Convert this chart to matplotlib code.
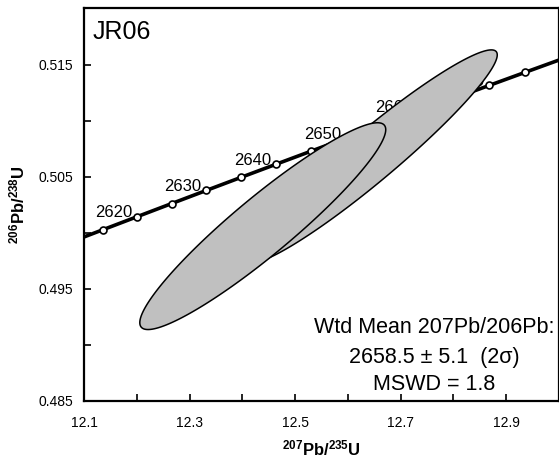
#! /usr/bin/env python3

'''
Concordia diagram for sample JR06: two error ellipses over the
concordia curve, with the weighted mean 207Pb/206Pb age.
'''

import numpy as np
import matplotlib
matplotlib.use('Agg')
import matplotlib.pyplot as plt

plt.rcParams['font.family'] = ['Liberation Sans', 'DejaVu Sans']
plt.rcParams['mathtext.fontset'] = 'custom'
plt.rcParams['mathtext.rm'] = 'Liberation Sans'
plt.rcParams['mathtext.bf'] = 'Liberation Sans:bold'

title = 'JR06'
xlabel = r'$\mathbf{^{207}Pb/^{235}U}$'
ylabel = r'$\mathbf{^{206}Pb/^{238}U}$'

# concordia points, 5 Ma apart
ages = [2610, 2615, 2620, 2625, 2630, 2635, 2640, 2645,
        2650, 2655, 2660, 2665, 2670, 2675, 2680]
pb207_u235 = [12.0718, 12.1363, 12.2012, 12.2663, 12.3318, 12.3976, 12.4638,
              12.5303, 12.5970, 12.6642, 12.7316, 12.7994, 12.8675, 12.9360,
              13.0048]
pb206_u238 = [0.499117, 0.500280, 0.501444, 0.502609, 0.503776, 0.504942,
              0.506110, 0.507278, 0.508448, 0.509619, 0.510790, 0.511962,
              0.513135, 0.514310, 0.515484]
labelled_ages = [2620, 2630, 2640, 2650, 2660, 2670]

# error ellipses (2 sigma): centre, half widths, correlation
ell_x = [12.6434, 12.4387]
ell_y = [0.50678, 0.50059]
ell_sx = [0.2396, 0.2330]
ell_sy = [0.009528, 0.00922]
ell_rho = [0.953, 0.933]

summary = ['Wtd Mean 207Pb/206Pb:',
           '2658.5 \u00b1 5.1  (2\u03c3)',
           'MSWD = 1.8']


def ellipse_outline(x0, y0, sx, sy, rho, n=300):
    t = np.linspace(0, 2 * np.pi, n)
    phi = np.arccos(rho)
    return x0 + sx * np.cos(t), y0 + sy * np.cos(t - phi)


fig = plt.figure(figsize=(5.59, 4.61), dpi=100)
ax = fig.add_axes([0.1503, 0.1302, 0.8497, 0.8514])

# concordia curve
ax.plot(pb207_u235, pb206_u238, color='black', lw=2.6, zorder=2,
        marker='o', ms=5, mfc='white', mec='black', mew=1.2)
for age in labelled_ages:
    i = ages.index(age)
    ax.annotate(str(age), xy=(pb207_u235[i], pb206_u238[i]),
                xytext=(-3.5, -0.5), textcoords='offset points',
                ha='right', va='baseline', fontsize=12, zorder=2)

# big ellipse first, small one on top of it
for i in range(len(ell_x)):
    ex, ey = ellipse_outline(ell_x[i], ell_y[i], ell_sx[i], ell_sy[i],
                             ell_rho[i])
    ax.fill(ex, ey, facecolor='#c0c0c0', edgecolor='black', lw=1.1,
            zorder=3 + i)

ax.set_xlim(12.1, 13.0)
ax.set_ylim(0.485, 0.520)
ax.set_xticks(np.arange(12.1, 12.95, 0.2))
ax.set_xticks(np.arange(12.2, 13.0, 0.2), minor=True)
ax.set_yticks([0.485, 0.495, 0.505, 0.515])
ax.set_yticks([0.49, 0.50, 0.51], minor=True)
ax.xaxis.set_major_formatter(plt.FormatStrFormatter('%.1f'))
ax.yaxis.set_major_formatter(plt.FormatStrFormatter('%.3f'))
ax.tick_params(which='both', direction='in', length=5, width=1.2,
               labelsize=10, color='black')
ax.tick_params(axis='x', which='both', pad=11)
ax.tick_params(axis='y', which='both', pad=8)
ax.tick_params(which='minor', top=False, right=False)
for spine in ax.spines.values():
    spine.set_linewidth(1.6)

ax.set_xlabel(xlabel, fontsize=12, labelpad=6)
ax.set_ylabel(ylabel, fontsize=12, labelpad=8)

ax.text(0.018, 0.922, title, transform=ax.transAxes, fontsize=18,
        ha='left', va='baseline')
for txt, yy in zip(summary, [0.174, 0.097, 0.028]):
    ax.text(0.738, yy, txt, transform=ax.transAxes, fontsize=15.5,
            ha='center', va='baseline', zorder=6)

fig.savefig('out.png', dpi=100)
